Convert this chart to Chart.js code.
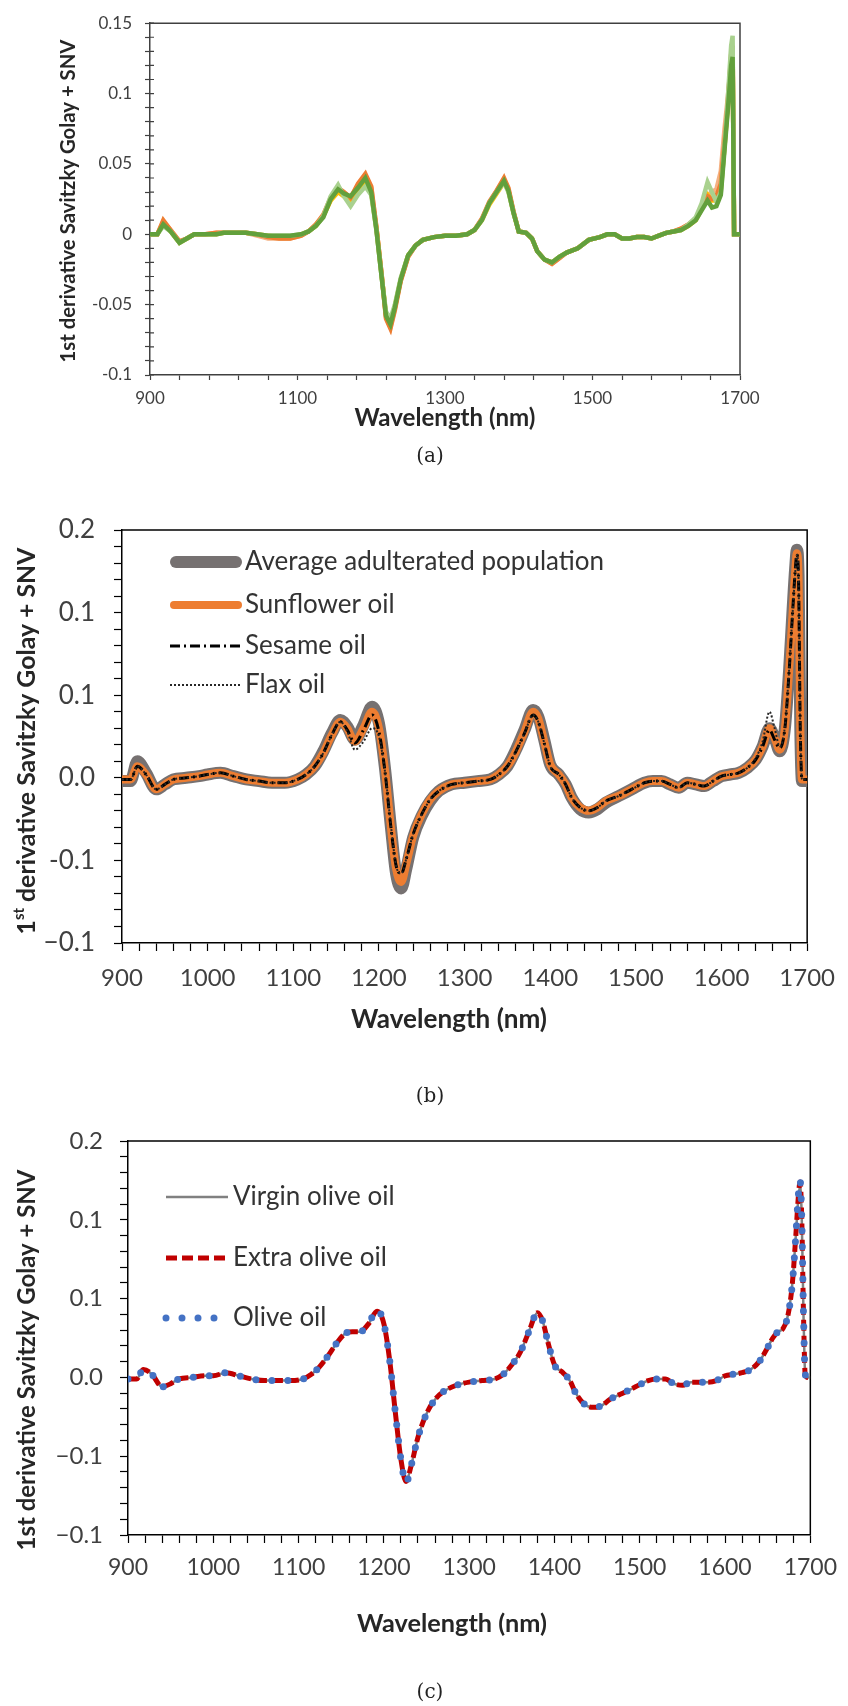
<!DOCTYPE html>
<html>
<head>
<meta charset="utf-8">
<script src="https://cdn.jsdelivr.net/npm/chart.js@4.4.1/dist/chart.umd.min.js"></script>
<style>
  html, body { margin: 0; padding: 0; background: #fff; }
  #page { position: relative; width: 848px; height: 1706px; overflow: hidden; }
  canvas { position: absolute; left: 0; }
  .cap { position: absolute; left: 400px; width: 60px; text-align: center; font: 20px 'DejaVu Serif', serif; color: #222; line-height: 24px; }
</style>
</head>
<body>
<div id="page">
  <canvas id="chartA" width="848" height="460" style="top:0;width:848px;height:460px"></canvas>
  <canvas id="chartB" width="848" height="640" style="top:460px;width:848px;height:640px"></canvas>
  <canvas id="chartC" width="848" height="606" style="top:1100px;width:848px;height:606px"></canvas>
  <div class="cap" style="top:443px">(a)</div>
  <div class="cap" style="top:1083px">(b)</div>
  <div class="cap" style="top:1679px">(c)</div>
</div>
<script>
// wavelength grid (nm), shared by every spectrum
var wavelength = [
  900, 910, 918, 928, 940, 950, 960, 975, 990, 1000,
  1015, 1030, 1045, 1060, 1075, 1090, 1105, 1115, 1125, 1135,
  1145, 1155, 1163, 1172, 1182, 1192, 1200, 1207, 1214, 1220,
  1226, 1232, 1240, 1250, 1260, 1270, 1285, 1300, 1315, 1330,
  1340, 1350, 1360, 1370, 1380, 1386, 1393, 1400, 1410, 1418,
  1425, 1435, 1445, 1455, 1465, 1480, 1495, 1510, 1520, 1530,
  1540, 1550, 1560, 1570, 1580, 1590, 1600, 1610, 1620, 1630,
  1640, 1648, 1656, 1662, 1668, 1674, 1679, 1683, 1686, 1688,
  1690, 1692, 1694, 1697, 1700
];

// ---- (a) individual spectra ----
var specSalmon = [
  0, 0, 0.009, 0.003, -0.005, -0.003, 0, 0, 0.001, 0.001,
  0.001, 0.001, -0.001, -0.003, -0.003, -0.003, -0.001, 0.002, 0.007, 0.013,
  0.025, 0.032, 0.029, 0.026, 0.035, 0.042, 0.033, 0.005, -0.028, -0.059,
  -0.066, -0.053, -0.033, -0.016, -0.008, -0.004, -0.002, -0.001, -0.001, 0,
  0.003, 0.011, 0.022, 0.031, 0.039, 0.032, 0.016, 0.002, 0.001, -0.003,
  -0.012, -0.018, -0.021, -0.017, -0.013, -0.010, -0.004, -0.002, 0, 0,
  -0.003, -0.003, -0.002, -0.002, -0.003, -0.001, 0.001, 0.002, 0.004, 0.007,
  0.011, 0.019, 0.028, 0.030, 0.032, 0.045, 0.075, 0.095, 0.112, 0.126,
  0.132, 0, 0, 0, 0
];
var specGold = [
  0, 0, 0.008, 0.002, -0.006, -0.003, 0, 0, 0, 0.001,
  0.001, 0.001, 0, -0.001, -0.002, -0.002, 0, 0.002, 0.006, 0.013,
  0.024, 0.030, 0.027, 0.024, 0.030, 0.036, 0.029, 0.004, -0.029, -0.057,
  -0.063, -0.051, -0.032, -0.015, -0.008, -0.004, -0.002, -0.001, -0.001, 0,
  0.003, 0.010, 0.021, 0.029, 0.037, 0.031, 0.015, 0.002, 0.001, -0.003,
  -0.012, -0.018, -0.020, -0.016, -0.013, -0.010, -0.004, -0.002, 0, 0,
  -0.003, -0.003, -0.002, -0.002, -0.003, -0.001, 0.001, 0.002, 0.003, 0.006,
  0.010, 0.018, 0.028, 0.024, 0.024, 0.032, 0.062, 0.088, 0.110, 0.125,
  0.132, 0, 0, 0, 0
];
var specOrange = [
  0, 0, 0.010, 0.003, -0.005, -0.003, 0, 0, 0.001, 0.001,
  0.001, 0.001, 0, -0.002, -0.003, -0.003, -0.001, 0.002, 0.007, 0.014,
  0.026, 0.033, 0.030, 0.026, 0.036, 0.043, 0.034, 0.005, -0.028, -0.060,
  -0.067, -0.054, -0.033, -0.016, -0.008, -0.004, -0.002, -0.001, -0.001, 0,
  0.003, 0.011, 0.023, 0.031, 0.040, 0.033, 0.016, 0.002, 0.001, -0.003,
  -0.012, -0.018, -0.021, -0.017, -0.013, -0.010, -0.004, -0.002, 0, 0,
  -0.003, -0.003, -0.002, -0.002, -0.003, -0.001, 0.001, 0.002, 0.004, 0.007,
  0.011, 0.019, 0.027, 0.025, 0.027, 0.036, 0.065, 0.090, 0.112, 0.128,
  0.134, 0, 0, 0, 0
];
var specLightGreen = [
  0, 0, 0.006, 0.002, -0.006, -0.003, 0, 0, 0, 0.001,
  0.001, 0.001, 0, -0.001, -0.001, -0.001, 0, 0.002, 0.006, 0.013,
  0.027, 0.035, 0.027, 0.020, 0.028, 0.034, 0.028, 0.003, -0.030, -0.055,
  -0.060, -0.050, -0.031, -0.015, -0.008, -0.004, -0.002, -0.001, -0.001, 0,
  0.003, 0.010, 0.022, 0.030, 0.037, 0.030, 0.015, 0.002, 0.001, -0.003,
  -0.012, -0.018, -0.020, -0.016, -0.013, -0.010, -0.004, -0.002, 0, 0,
  -0.003, -0.003, -0.002, -0.002, -0.003, -0.001, 0.001, 0.002, 0.003, 0.007,
  0.012, 0.022, 0.037, 0.030, 0.023, 0.030, 0.062, 0.092, 0.118, 0.134,
  0.141, 0, 0, 0, 0
];
var specGreen = [
  0, 0, 0.007, 0.002, -0.006, -0.003, 0, 0, 0, 0.001,
  0.001, 0.001, 0, -0.001, -0.001, -0.001, 0, 0.002, 0.006, 0.012,
  0.025, 0.032, 0.029, 0.027, 0.033, 0.040, 0.030, 0.003, -0.030, -0.058,
  -0.064, -0.052, -0.032, -0.015, -0.008, -0.004, -0.002, -0.001, -0.001, 0,
  0.003, 0.010, 0.022, 0.030, 0.038, 0.031, 0.015, 0.002, 0.001, -0.003,
  -0.012, -0.018, -0.020, -0.016, -0.013, -0.010, -0.004, -0.002, 0, 0,
  -0.003, -0.003, -0.002, -0.002, -0.003, -0.001, 0.001, 0.002, 0.003, 0.006,
  0.010, 0.017, 0.024, 0.019, 0.020, 0.028, 0.060, 0.085, 0.105, 0.120,
  0.126, 0, 0, 0, 0
];

// ---- (b) adulterants ----
var avgAdulterated = [
  -0.002, -0.002, 0.010, 0.003, -0.007, -0.004, -0.001, 0, 0.001, 0.002,
  0.003, 0.001, -0.001, -0.002, -0.003, -0.003, -0.001, 0.002, 0.007, 0.016,
  0.027, 0.035, 0.031, 0.023, 0.032, 0.043, 0.033, 0.006, -0.030, -0.058,
  -0.067, -0.055, -0.036, -0.023, -0.014, -0.008, -0.004, -0.003, -0.002, -0.001,
  0.002, 0.007, 0.017, 0.029, 0.041, 0.037, 0.023, 0.008, 0.002, -0.004,
  -0.012, -0.019, -0.021, -0.019, -0.015, -0.011, -0.007, -0.003, -0.002, -0.002,
  -0.004, -0.006, -0.003, -0.004, -0.005, -0.002, 0.001, 0.002, 0.003, 0.006,
  0.011, 0.019, 0.030, 0.024, 0.016, 0.030, 0.066, 0.102, 0.127, 0.138,
  0.122, 0.030, -0.002, -0.002, -0.002
];
var sunflowerOil = [
  -0.001, -0.001, 0.007, 0.002, -0.007, -0.004, -0.001, 0, 0.001, 0.002,
  0.003, 0.001, -0.001, -0.002, -0.003, -0.003, -0.001, 0.002, 0.007, 0.015,
  0.026, 0.034, 0.030, 0.022, 0.030, 0.040, 0.030, 0.005, -0.030, -0.055,
  -0.063, -0.052, -0.035, -0.022, -0.013, -0.008, -0.004, -0.003, -0.002, -0.001,
  0.002, 0.007, 0.016, 0.028, 0.040, 0.036, 0.022, 0.008, 0.002, -0.004,
  -0.012, -0.018, -0.020, -0.018, -0.014, -0.011, -0.007, -0.003, -0.002, -0.002,
  -0.004, -0.006, -0.003, -0.004, -0.005, -0.002, 0.001, 0.002, 0.003, 0.006,
  0.011, 0.019, 0.030, 0.024, 0.017, 0.030, 0.065, 0.100, 0.125, 0.136,
  0.120, 0.030, -0.001, -0.001, -0.001
];
var sesameOil = [
  -0.001, -0.001, 0.007, 0.002, -0.007, -0.004, -0.001, 0, 0.001, 0.002,
  0.003, 0.001, -0.001, -0.002, -0.003, -0.003, -0.001, 0.002, 0.007, 0.015,
  0.026, 0.034, 0.029, 0.021, 0.029, 0.038, 0.028, 0.004, -0.030, -0.053,
  -0.058, -0.049, -0.034, -0.022, -0.013, -0.008, -0.004, -0.003, -0.002, -0.001,
  0.002, 0.007, 0.016, 0.027, 0.038, 0.034, 0.021, 0.007, 0.002, -0.004,
  -0.012, -0.018, -0.020, -0.018, -0.014, -0.011, -0.007, -0.003, -0.002, -0.002,
  -0.004, -0.006, -0.003, -0.004, -0.005, -0.002, 0.001, 0.002, 0.003, 0.006,
  0.011, 0.019, 0.029, 0.023, 0.018, 0.030, 0.065, 0.100, 0.125, 0.135,
  0.118, 0.028, -0.001, -0.001, -0.001
];
var flaxOil = [
  -0.001, -0.001, 0.007, 0.002, -0.007, -0.004, -0.001, 0, 0.001, 0.002,
  0.003, 0.001, -0.001, -0.002, -0.003, -0.003, -0.001, 0.002, 0.007, 0.015,
  0.026, 0.034, 0.028, 0.017, 0.022, 0.030, 0.025, 0.004, -0.029, -0.053,
  -0.058, -0.049, -0.034, -0.022, -0.013, -0.008, -0.004, -0.003, -0.002, -0.001,
  0.002, 0.007, 0.016, 0.027, 0.038, 0.034, 0.021, 0.007, 0.002, -0.004,
  -0.012, -0.018, -0.020, -0.018, -0.014, -0.011, -0.007, -0.003, -0.002, -0.002,
  -0.004, -0.006, -0.003, -0.004, -0.005, -0.002, 0.001, 0.002, 0.003, 0.006,
  0.012, 0.022, 0.040, 0.030, 0.019, 0.031, 0.066, 0.100, 0.124, 0.135,
  0.118, 0.028, -0.001, -0.001, -0.001
];

// ---- (c) olive oil grades ----
var virginOlive = [
  -0.001, -0.001, 0.005, 0.002, -0.006, -0.004, -0.001, 0, 0.001, 0.001,
  0.003, 0.001, -0.001, -0.002, -0.002, -0.002, -0.001, 0.002, 0.007, 0.014,
  0.022, 0.028, 0.029, 0.029, 0.034, 0.042, 0.034, 0.010, -0.025, -0.052,
  -0.066, -0.056, -0.038, -0.023, -0.014, -0.009, -0.005, -0.003, -0.002, -0.001,
  0.002, 0.008, 0.016, 0.029, 0.041, 0.036, 0.021, 0.008, 0.003, -0.002,
  -0.010, -0.017, -0.019, -0.018, -0.014, -0.010, -0.006, -0.002, -0.001, -0.001,
  -0.004, -0.005, -0.003, -0.003, -0.003, -0.002, 0.001, 0.002, 0.003, 0.005,
  0.010, 0.017, 0.025, 0.029, 0.031, 0.040, 0.060, 0.090, 0.114, 0.122,
  0.100, 0.040, 0.002, 0, 0
];
var extraOlive = [
  -0.001, -0.001, 0.005, 0.002, -0.006, -0.004, -0.001, 0, 0.001, 0.001,
  0.003, 0.001, -0.001, -0.002, -0.002, -0.002, -0.001, 0.002, 0.007, 0.014,
  0.022, 0.028, 0.029, 0.029, 0.034, 0.042, 0.034, 0.010, -0.025, -0.052,
  -0.066, -0.056, -0.038, -0.023, -0.014, -0.009, -0.005, -0.003, -0.002, -0.001,
  0.002, 0.008, 0.016, 0.029, 0.041, 0.036, 0.021, 0.008, 0.003, -0.002,
  -0.010, -0.017, -0.019, -0.018, -0.014, -0.010, -0.006, -0.002, -0.001, -0.001,
  -0.004, -0.005, -0.003, -0.003, -0.003, -0.002, 0.001, 0.002, 0.003, 0.005,
  0.010, 0.017, 0.025, 0.029, 0.031, 0.040, 0.060, 0.090, 0.115, 0.124,
  0.100, 0.040, 0.002, 0, 0
];
var oliveOil = [
  -0.001, -0.001, 0.005, 0.002, -0.006, -0.004, -0.001, 0, 0.001, 0.001,
  0.003, 0.001, -0.001, -0.002, -0.002, -0.002, -0.001, 0.002, 0.007, 0.014,
  0.022, 0.028, 0.029, 0.029, 0.034, 0.043, 0.034, 0.010, -0.025, -0.052,
  -0.067, -0.056, -0.038, -0.023, -0.014, -0.009, -0.005, -0.003, -0.002, -0.001,
  0.002, 0.008, 0.016, 0.029, 0.041, 0.036, 0.021, 0.008, 0.003, -0.002,
  -0.010, -0.017, -0.019, -0.018, -0.014, -0.010, -0.006, -0.002, -0.001, -0.001,
  -0.004, -0.005, -0.003, -0.003, -0.003, -0.002, 0.001, 0.002, 0.003, 0.005,
  0.010, 0.017, 0.025, 0.029, 0.031, 0.040, 0.060, 0.090, 0.116, 0.125,
  0.100, 0.040, 0.002, 0, 0
];

// tick values and the labels printed for them
var yTickValues = [-0.1, -0.05, 0, 0.05, 0.1, 0.15];
var yLabelsA = ['-0.1', '-0.05', '0', '0.05', '0.1', '0.15'];
var yLabelsB = ['\u22120.1', '-0.1', '0.0', '0.1', '0.1', '0.2'];
var yLabelsC = ['\u22120.1', '\u22120.1', '0.0', '0.1', '0.1', '0.2'];
var xTicksA = [900, 1100, 1300, 1500, 1700];
var xTicksBC = [900, 1000, 1100, 1200, 1300, 1400, 1500, 1600, 1700];

function pts(arr) {
  return wavelength.map(function (w, i) { return { x: w, y: arr[i] }; });
}

function labelFrom(vals, labels) {
  return function (v) {
    for (var i = 0; i < vals.length; i++) {
      if (Math.abs(vals[i] - v) < 1e-6) return labels[i];
    }
    return '';
  };
}

// box lines on top/right + optional inner ticks on y
var framePlugin = {
  id: 'frame',
  beforeDatasetsDraw: function (chart, args, opts) {
    var a = chart.chartArea, ctx = chart.ctx;
    ctx.save();
    ctx.strokeStyle = opts.color;
    ctx.lineWidth = opts.width;
    ctx.beginPath();
    ctx.moveTo(a.left, a.top);
    ctx.lineTo(a.right, a.top);
    ctx.lineTo(a.right, a.bottom);
    ctx.stroke();
    if (opts.innerTicks) {
      var y = chart.scales.y;
      ctx.beginPath();
      ctx.lineWidth = 1.2;
      y.ticks.forEach(function (t) {
        var py = y.getPixelForValue(t.value);
        ctx.moveTo(a.left, py);
        ctx.lineTo(a.left + opts.innerTicks, py);
      });
      ctx.stroke();
    }
    ctx.restore();
  }
};

// axis titles (with optional superscript parts)
var textPlugin = {
  id: 'texts',
  afterDraw: function (chart, args, opts) {
    var ctx = chart.ctx;
    (opts.items || []).forEach(function (it) {
      var parts = it.parts || [{ t: it.text }];
      var font = function (s) { return (it.weight || 'normal') + ' ' + s + 'px ' + it.family; };
      var measure = function (sz) {
        return parts.reduce(function (w, p) {
          ctx.font = font(p.sup ? sz * 0.6 : sz);
          return w + ctx.measureText(p.t).width;
        }, 0);
      };
      var size = it.size;
      if (it.width) size = size * it.width / measure(size);
      var total = measure(size);
      ctx.save();
      ctx.translate(it.x, it.y);
      if (it.rotate) ctx.rotate(it.rotate * Math.PI / 180);
      ctx.fillStyle = it.color;
      ctx.textBaseline = 'middle';
      ctx.textAlign = 'left';
      var x = -total / 2;
      parts.forEach(function (p) {
        var sz = p.sup ? size * 0.6 : size;
        ctx.font = font(sz);
        ctx.fillText(p.t, x, p.sup ? -size * 0.3 : 0);
        x += ctx.measureText(p.t).width;
      });
      ctx.restore();
    });
  }
};

// legend inside the plot, one row per dataset
var legendPlugin = {
  id: 'inlineLegend',
  afterDraw: function (chart, args, opts) {
    if (!opts.rows) return;
    var ctx = chart.ctx;
    chart.data.datasets.forEach(function (ds, i) {
      var y = opts.rows[i];
      ctx.save();
      ctx.strokeStyle = ds.borderColor;
      ctx.lineWidth = ds.borderWidth;
      ctx.setLineDash(ds.borderDash || []);
      ctx.lineCap = ds.borderCapStyle || 'butt';
      var x0 = opts.x0, x1 = opts.x1;
      if (ds.borderCapStyle === 'round' && !(ds.borderDash && ds.borderDash.length)) {
        x0 += ds.borderWidth / 2; x1 -= ds.borderWidth / 2;
      }
      ctx.beginPath();
      ctx.moveTo(x0, y);
      ctx.lineTo(x1, y);
      ctx.stroke();
      ctx.setLineDash([]);
      ctx.fillStyle = opts.color;
      ctx.font = opts.font;
      ctx.textBaseline = 'middle';
      ctx.fillText(ds.label, opts.tx, y);
      ctx.restore();
    });
  }
};

function scales(o) {
  return {
    x: {
      type: 'linear', min: 900, max: 1700,
      afterFit: function (s) { s.height = o.xh; },
      border: { display: true, color: o.axis, width: 1.5 },
      grid: { drawOnChartArea: false, drawTicks: true, tickLength: o.tick, tickColor: o.axis, tickWidth: 1.2 },
      ticks: {
        stepSize: o.xStep, autoSkip: false, maxRotation: 0, padding: o.xPad, color: o.tickColor,
        font: { family: 'Lato', size: o.xFont },
        callback: labelFrom(o.xVals, o.xVals.map(String))
      }
    },
    y: {
      type: 'linear', min: -0.1, max: 0.15,
      afterFit: function (s) { s.width = o.yw; },
      border: { display: true, color: o.axis, width: 1.5 },
      grid: { drawOnChartArea: false, drawTicks: true, tickLength: o.tick, tickColor: o.axis, tickWidth: 1.2 },
      ticks: {
        stepSize: 0.01, autoSkip: false, padding: o.yPad, color: o.tickColor,
        font: { family: 'Lato', size: o.yFont },
        callback: labelFrom(yTickValues, o.yLabels)
      }
    }
  };
}

function line(label, arr, color, width, extra) {
  var ds = {
    label: label, data: pts(arr), borderColor: color, borderWidth: width,
    pointRadius: 0, fill: false, cubicInterpolationMode: 'monotone'
  };
  for (var k in extra) ds[k] = extra[k];
  return ds;
}

var common = {
  responsive: false, animation: false, events: [],
  parsing: true
};

// ---------- chart (a) ----------
new Chart(document.getElementById('chartA'), {
  type: 'line',
  data: {
    datasets: [
      line('s1', specSalmon, '#F4B183', 4.5, { order: 5, tension: 0, cubicInterpolationMode: 'default' }),
      line('s2', specGold, '#FFC000', 4.5, { order: 4, tension: 0, cubicInterpolationMode: 'default' }),
      line('s3', specOrange, '#ED7D31', 4.5, { order: 3, tension: 0, cubicInterpolationMode: 'default' }),
      line('s4', specLightGreen, '#A9D18E', 4.5, { order: 2, tension: 0, cubicInterpolationMode: 'default' }),
      line('s5', specGreen, '#62A03C', 4.5, { order: 1, tension: 0, cubicInterpolationMode: 'default' })
    ]
  },
  options: Object.assign({}, common, {
    layout: { padding: { top: 19, right: 108, left: 0, bottom: 0 } },
    scales: scales({ xh: 85, yw: 150, axis: '#404040', tick: 5, xStep: 40, xVals: xTicksA, xPad: 8,
      yPad: 13, tickColor: '#404040', xFont: 17, yFont: 17, yLabels: yLabelsA }),
    plugins: {
      legend: { display: false }, tooltip: { enabled: false },
      frame: { color: '#404040', width: 1.5, innerTicks: 4 },
      texts: { items: [
        { text: '1st derivative Savitzky Golay + SNV', x: 68, y: 201, rotate: -90, family: 'Lato', weight: 'bold', size: 21, width: 323, color: '#262626' },
        { text: 'Wavelength (nm)', x: 445, y: 418, family: 'Lato', weight: 'bold', size: 23, width: 181, color: '#262626' }
      ] }
    }
  }),
  plugins: [framePlugin, textPlugin]
});

// ---------- chart (b) ----------
new Chart(document.getElementById('chartB'), {
  type: 'line',
  data: {
    datasets: [
      line('Average adulterated population', avgAdulterated, '#767171', 12, { order: 4, borderCapStyle: 'round', borderJoinStyle: 'round' }),
      line('Sunflower oil', sunflowerOil, '#ED7D31', 8, { order: 3, borderCapStyle: 'round', borderJoinStyle: 'round' }),
      line('Sesame oil', sesameOil, '#000000', 3, { order: 2, borderDash: [10, 4, 2, 4] }),
      line('Flax oil', flaxOil, '#262626', 2, { order: 1, borderDash: [2, 2] })
    ]
  },
  options: Object.assign({}, common, {
    layout: { padding: { top: 70, right: 33, left: 0, bottom: 0 } },
    scales: scales({ xh: 157, yw: 122, axis: '#000', tick: 8, xStep: 20, xVals: xTicksBC, xPad: 13,
      yPad: 19, tickColor: '#404040', xFont: 24, yFont: 26, yLabels: yLabelsB }),
    plugins: {
      legend: { display: false }, tooltip: { enabled: false },
      frame: { color: '#000', width: 1.5 },
      inlineLegend: { rows: [102, 145, 186, 225], x0: 170, x1: 242, tx: 245, font: '26px Lato', color: '#333' },
      texts: { items: [
        { parts: [{ t: '1' }, { t: 'st', sup: true }, { t: ' derivative Savitzky Golay + SNV' }], x: 27, y: 281, rotate: -90, family: 'Lato', weight: 'bold', size: 24, width: 387, color: '#262626' },
        { text: 'Wavelength (nm)', x: 449, y: 560, family: 'Lato', weight: 'bold', size: 26, width: 196, color: '#262626' }
      ] }
    }
  }),
  plugins: [framePlugin, textPlugin, legendPlugin]
});

// ---------- chart (c) ----------
new Chart(document.getElementById('chartC'), {
  type: 'line',
  data: {
    datasets: [
      line('Virgin olive oil', virginOlive, '#808080', 2.5, { order: 3 }),
      line('Extra olive oil', extraOlive, '#C00000', 5, { order: 2, borderDash: [11, 5] }),
      line('Olive oil', oliveOil, '#4472C4', 7, { order: 1, borderDash: [0, 16], borderCapStyle: 'round' })
    ]
  },
  options: Object.assign({}, common, {
    layout: { padding: { top: 41, right: 37, left: 0, bottom: 0 } },
    scales: scales({ xh: 171, yw: 128, axis: '#000', tick: 8, xStep: 20, xVals: xTicksBC, xPad: 11,
      yPad: 17, tickColor: '#404040', xFont: 23, yFont: 24, yLabels: yLabelsC }),
    plugins: {
      legend: { display: false }, tooltip: { enabled: false },
      frame: { color: '#000', width: 1.5 },
      inlineLegend: { rows: [97, 158, 218], x0: 166, x1: 228, tx: 233, font: '26px Lato', color: '#333' },
      texts: { items: [
        { text: '1st derivative Savitzky Golay + SNV', x: 27, y: 260, rotate: -90, family: 'Lato', weight: 'bold', size: 24, width: 381, color: '#262626' },
        { text: 'Wavelength (nm)', x: 452, y: 524, family: 'Lato', weight: 'bold', size: 26, width: 190, color: '#262626' }
      ] }
    }
  }),
  plugins: [framePlugin, textPlugin, legendPlugin]
});
</script>
</body>
</html>
